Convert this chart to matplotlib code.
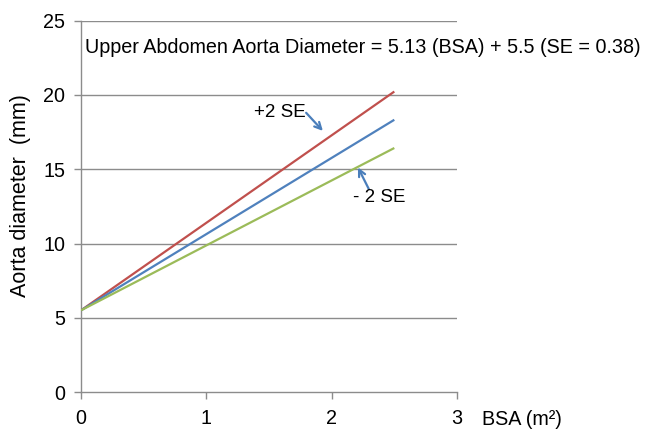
import matplotlib
matplotlib.use("Agg")
import matplotlib.pyplot as plt

plt.rcParams['font.family'] = ['Liberation Sans', 'DejaVu Sans']

# Regression lines: diameter = 5.13*BSA + 5.5, SE = 0.38
bsa = [0.0, 2.5]
upper_2se = [5.5, 20.23]
mean_line = [5.5, 18.33]
lower_2se = [5.5, 16.43]

x_ticks = [0, 1, 2, 3]
y_ticks = [0, 5, 10, 15, 20, 25]

grid_col = '#8c8c8c'

fig = plt.figure(figsize=(6.46, 4.29), dpi=100)
ax = fig.add_axes([0.1254, 0.0862, 0.582, 0.8655])

ax.plot(bsa, upper_2se, color='#c0504d', lw=1.6, solid_capstyle='butt', zorder=3)
ax.plot(bsa, mean_line, color='#4f81bd', lw=1.6, solid_capstyle='butt', zorder=3)
ax.plot(bsa, lower_2se, color='#9bbb59', lw=1.6, solid_capstyle='butt', zorder=3)

ax.set_xlim(0, 3)
ax.set_ylim(0, 25)
ax.set_xticks(x_ticks)
ax.set_yticks(y_ticks)
ax.tick_params(axis='both', labelsize=14.2, color=grid_col, length=5, width=1)
ax.tick_params(axis='x', pad=7.5)
ax.tick_params(axis='y', pad=6.5)

for y in y_ticks[1:]:
    ax.axhline(y, color=grid_col, lw=1, zorder=1)
for s in ['top', 'right']:
    ax.spines[s].set_visible(False)
for s in ['left', 'bottom']:
    ax.spines[s].set_color(grid_col)
    ax.spines[s].set_linewidth(1)

ax.text(0.03, 23.2, 'Upper Abdomen Aorta Diameter = 5.13 (BSA) + 5.5 (SE = 0.38)',
        fontsize=14.2, ha='left', va='center', clip_on=False)

arrow_col = '#4a7ebb'
ax.annotate('+2 SE', xy=(1.93, 17.58), xytext=(1.59, 18.8),
            fontsize=13.5, ha='center', va='center',
            arrowprops=dict(arrowstyle='->', color=arrow_col, lw=1.6,
                            shrinkA=0, shrinkB=0, mutation_scale=12,
                            patchA=None, relpos=(1.0, 0.5)))
ax.annotate('- 2 SE', xy=(2.21, 15.12), xytext=(2.38, 13.1),
            fontsize=13.5, ha='center', va='center',
            arrowprops=dict(arrowstyle='->', color=arrow_col, lw=1.6,
                            shrinkA=0, shrinkB=0, mutation_scale=12,
                            patchA=None, relpos=(0.3, 1.0)))

fig.text(0.031, 0.545, 'Aorta diameter  (mm)', rotation=90, fontsize=15.5,
         ha='center', va='center')
fig.text(0.746, 0.022, 'BSA (m\u00b2)', fontsize=14.2, ha='left', va='center')

fig.savefig('out.png', dpi=100)
